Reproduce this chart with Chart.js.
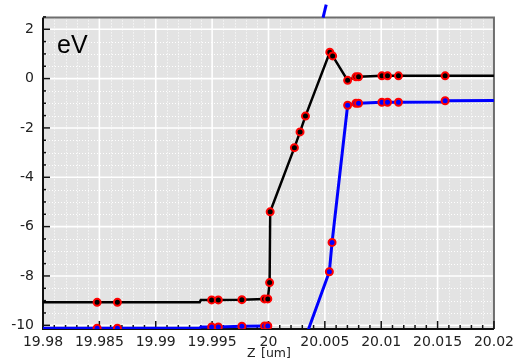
<!DOCTYPE html>
<html>
<head>
<meta charset="utf-8">
<script src="https://cdn.jsdelivr.net/npm/chart.js@4"></script>
<style>
  html, body { margin: 0; padding: 0; background: #fff; }
  #wrap { width: 519px; height: 361px; }
</style>
</head>
<body>
<div id="wrap"><canvas id="chart" width="519" height="361"></canvas></div>
<script>
// ---- data ----
const xTicks = [19.98, 19.985, 19.99, 19.995, 20, 20.005, 20.01, 20.015, 20.02];
const xTickLabels = ["19.98", "19.985", "19.99", "19.995", "20", "20.005", "20.01", "20.015", "20.02"];
const yTicks = [-10, -8, -6, -4, -2, 0, 2];
const yTickLabels = ["-10", "-8", "-6", "-4", "-2", "0", "2"];

const xBlack = [19.98, 19.9848, 19.9866, 19.9939, 19.994, 19.99496, 19.99555, 19.99764, 19.99965, 19.99994,
  20.0001, 20.00015, 20.0023, 20.0028, 20.00328, 20.00544, 20.00569, 20.00702, 20.00776, 20.00799,
  20.01006, 20.01056, 20.01153, 20.01567, 20.02];
const yBlack = [-9.07, -9.07, -9.07, -9.07, -8.97, -8.97, -8.97, -8.96, -8.93, -8.93,
  -8.27, -5.4, -2.8, -2.16, -1.52, 1.07, 0.92, -0.07, 0.07, 0.07,
  0.11, 0.11, 0.11, 0.11, 0.11];
const markBlack = [0, 1, 1, 0, 0, 1, 1, 1, 1, 1, 1, 1, 1, 1, 1, 1, 1, 1, 1, 1, 1, 1, 1, 1, 0];

const xBlue = [19.98, 19.9848, 19.9866, 19.9939, 19.994, 19.99496, 19.99555, 19.99764, 19.99965, 19.99994,
  20.0001, 20.0054, 20.00564, 20.00702, 20.00776, 20.00799, 20.01006, 20.01056, 20.01153, 20.0156,
  20.01567, 20.02];
const yBlue = [-10.12, -10.12, -10.12, -10.12, -10.07, -10.07, -10.07, -10.04, -10.03, -10.03,
  -14.5, -7.83, -6.64, -1.08, -1.0, -1.0, -0.96, -0.96, -0.96, -0.95,
  -0.9, -0.89];
const markBlue = [0, 1, 1, 0, 0, 1, 1, 1, 1, 1, 0, 1, 1, 1, 1, 1, 1, 1, 1, 0, 1, 0];

// stray blue stroke poking out above the frame
const xBlueStub = [20.00484, 20.00512];
const yBlueStub = [2.47, 3.0];

const X_MIN = 19.98, X_MAX = 20.02, Y_MIN = -10.15, Y_MAX = 2.48;
const TICK_FONT = "'DejaVu Sans', Verdana, sans-serif";

function pts(xs, ys) {
  return xs.map((x, i) => ({ x: x, y: ys[i] }));
}

// ---- frame, grid, tick marks, labels ----
const framePlugin = {
  id: "frame",
  beforeDatasetsDraw(chart) {
    const { ctx, chartArea: a, scales } = chart;
    const xs = scales.x, ys = scales.y;
    ctx.save();
    ctx.fillStyle = "#e3e3e3";
    ctx.fillRect(a.left, a.top, a.right - a.left, a.bottom - a.top);

    // minor dotted grid
    ctx.strokeStyle = "#ffffff";
    ctx.lineWidth = 1;
    ctx.setLineDash([1, 2]);
    for (let i = 0; i <= 40; i++) {
      if (i % 5 === 0) continue;
      const px = Math.round(xs.getPixelForValue(X_MIN + i * 0.001)) + 0.5;
      ctx.beginPath(); ctx.moveTo(px, a.top); ctx.lineTo(px, a.bottom); ctx.stroke();
    }
    for (let v = -10; v <= 2.5; v += 0.5) {
      if (v % 2 === 0) continue;
      const py = Math.round(ys.getPixelForValue(v)) + 0.5;
      ctx.beginPath(); ctx.moveTo(a.left, py); ctx.lineTo(a.right, py); ctx.stroke();
    }

    // major solid grid
    ctx.setLineDash([]);
    ctx.lineWidth = 1.6;
    xTicks.forEach((v) => {
      const px = xs.getPixelForValue(v);
      ctx.beginPath(); ctx.moveTo(px, a.top); ctx.lineTo(px, a.bottom); ctx.stroke();
    });
    yTicks.forEach((v) => {
      const py = ys.getPixelForValue(v);
      ctx.beginPath(); ctx.moveTo(a.left, py); ctx.lineTo(a.right, py); ctx.stroke();
    });

    // frame: grey top/right, black left/bottom
    ctx.strokeStyle = "#6e6e6e";
    ctx.lineWidth = 2;
    ctx.beginPath();
    ctx.moveTo(a.left, a.top); ctx.lineTo(a.right, a.top); ctx.lineTo(a.right, a.bottom);
    ctx.stroke();
    ctx.strokeStyle = "#111";
    ctx.beginPath();
    ctx.moveTo(a.left, a.top); ctx.lineTo(a.left, a.bottom); ctx.lineTo(a.right, a.bottom);
    ctx.stroke();

    // inward tick marks
    ctx.lineWidth = 1.5;
    for (let i = 0; i <= 40; i++) {
      const px = xs.getPixelForValue(X_MIN + i * 0.001);
      const len = i % 5 === 0 ? 8 : 4;
      ctx.beginPath(); ctx.moveTo(px, a.bottom); ctx.lineTo(px, a.bottom - len); ctx.stroke();
    }
    for (let v = -10; v <= 2.5; v += 0.5) {
      const py = ys.getPixelForValue(v);
      const len = v % 2 === 0 ? 7 : 3;
      ctx.beginPath(); ctx.moveTo(a.left, py); ctx.lineTo(a.left + len, py); ctx.stroke();
    }
    ctx.restore();
  },
  afterDraw(chart) {
    const { ctx, chartArea: a } = chart;
    ctx.save();
    ctx.fillStyle = "#000";
    ctx.textAlign = "left";
    ctx.textBaseline = "alphabetic";
    ctx.font = "25px 'Liberation Sans', Arial, sans-serif";
    ctx.fillText("eV", a.left + 14, 53);
    ctx.fillStyle = "#222";
    ctx.font = "12.5px " + TICK_FONT;
    ctx.fillText("Z", 247, 357);
    ctx.fillText("[um]", 261, 357);
    ctx.restore();
  },
};

new Chart(document.getElementById("chart"), {
  type: "line",
  data: {
    datasets: [
      {
        data: pts(xBlueStub, yBlueStub),
        borderColor: "#0000ff",
        borderWidth: 3,
        pointRadius: 0,
        clip: { left: 0, top: 20, right: 0, bottom: 0 },
      },
      {
        data: pts(xBlue, yBlue),
        borderColor: "#0000ff",
        borderWidth: 3,
        pointRadius: markBlue.map((m) => (m ? 3.5 : 0)),
        pointBackgroundColor: "#0000ff",
        pointBorderColor: "#ff0000",
        pointBorderWidth: 2,
      },
      {
        data: pts(xBlack, yBlack),
        borderColor: "#000000",
        borderWidth: 2.5,
        pointRadius: markBlack.map((m) => (m ? 3.5 : 0)),
        pointBackgroundColor: "#000000",
        pointBorderColor: "#ff0000",
        pointBorderWidth: 2,
      },
    ],
  },
  options: {
    responsive: false,
    animation: false,
    layout: { padding: { left: 0, right: 23, top: 13, bottom: 0 } },
    plugins: { legend: { display: false }, tooltip: { enabled: false } },
    elements: { line: { tension: 0 } },
    scales: {
      x: {
        type: "linear",
        min: X_MIN,
        max: X_MAX,
        grid: { display: false, drawTicks: false },
        border: { display: false },
        afterBuildTicks: (s) => { s.ticks = xTicks.map((v) => ({ value: v })); },
        afterFit: (s) => { s.height = 32; },
        ticks: {
          autoSkip: false,
          maxRotation: 0,
          padding: 5,
          color: "#222",
          font: { family: TICK_FONT, size: 14 },
          callback: (v, i) => xTickLabels[i],
        },
      },
      y: {
        min: Y_MIN,
        max: Y_MAX,
        grid: { display: false, drawTicks: false },
        border: { display: false },
        afterBuildTicks: (s) => { s.ticks = yTicks.map((v) => ({ value: v })); },
        afterFit: (s) => { s.width = 43; },
        ticks: {
          padding: 9,
          color: "#222",
          font: { family: TICK_FONT, size: 14 },
          callback: (v, i) => yTickLabels[i],
        },
      },
    },
  },
  plugins: [framePlugin],
});
</script>
</body>
</html>
